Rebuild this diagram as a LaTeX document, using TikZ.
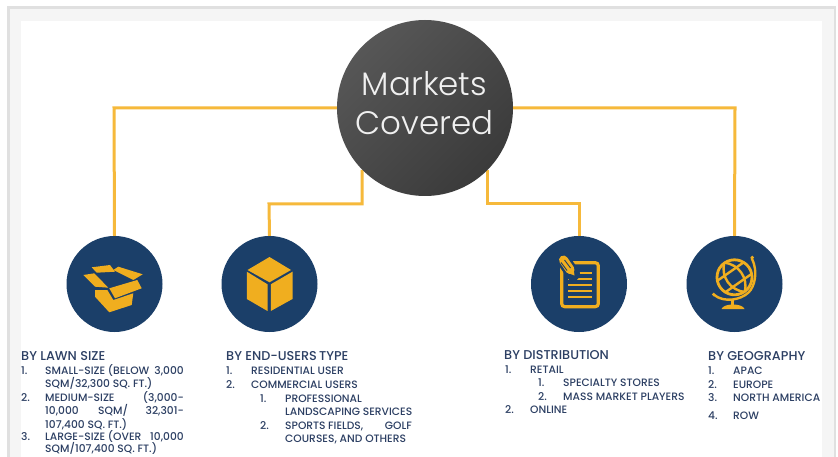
\documentclass[tikz,border=0pt]{standalone}
\usepackage{fontspec}
\setmainfont{Poppins Medium}
\newfontfamily\lightf{Poppins Light}
\definecolor{navy}{HTML}{1B3F69}
\definecolor{gold}{HTML}{F0AE1F}
\definecolor{conn}{HTML}{F6B93B}
\definecolor{txt}{HTML}{2C3F63}
\definecolor{frame}{HTML}{E0E0E0}
\definecolor{band}{HTML}{F5F5F5}
\tikzset{
 x=1pt,y=-1pt,
 wire/.style={draw=conn,line width=3pt,line join=miter},
 badge/.style={circle,fill=navy,minimum size=96pt,inner sep=0pt,draw=none},
 head/.style={anchor=base west,inner sep=0pt,font=\fontsize{12.8}{14}\selectfont,text=txt},
 item/.style={anchor=base west,inner sep=0pt,font=\fontsize{10.7}{12}\selectfont,text=txt},
 itemr/.style={item,anchor=base east},
 hubtext/.style={anchor=center,inner sep=0pt,text=black!6,font=\lightf\fontsize{32.5}{38}\selectfont},
}
\begin{document}
\begin{tikzpicture}
\useasboundingbox (0,0) rectangle (838,457);
\fill[white] (0,0) rectangle (838,457);
\fill[frame] (7,6) rectangle (836,457);
\fill[band] (10,9) rectangle (834,457);
\fill[white] (21,21) rectangle (822,457);
% connectors
\coordinate (hl) at (114,108);
\coordinate (hr) at (735,108);
\coordinate (ml) at (269,204);
\coordinate (mr) at (579,204);
\coordinate (dl) at (362,204);
\coordinate (dr) at (487,204);
\coordinate (sl) at (362,170);
\coordinate (sr) at (487,170);
\node[badge] (b1) at (114.5,284) {};
\node[badge] (b2) at (269.5,284) {};
\node[badge] (b3) at (579,284) {};
\node[badge] (b4) at (734.5,284) {};
\node[circle,minimum size=176pt,inner sep=0pt] (hub) at (425,108) {};
\draw[wire] (hub.west) -- (hl) -- (b1.north);
\draw[wire] (hub.east) -- (hr) -- (b4.north);
\draw[wire] (sl) -- (dl) -- (ml) -- (b2.north);
\draw[wire] (sr) -- (dr) -- (mr) -- (b3.north);
\node[circle,minimum size=176pt,inner sep=0pt,top color=black!66,bottom color=black!77,shading angle=45,draw=none] (disc) at (425,108) {};
\node[hubtext] (t1) at (424.5,84) {Markets};
\node[hubtext] (t2) at (424.5,123) {Covered};
% box icon
\begin{scope}[shift={(114.5,284)}]
\fill[gold] (-31.2,-9) -- (-20.2,-10.7) -- (-6.2,3.7) -- (-19.5,2.7) -- cycle;
\fill[gold] (-22.8,-16.7) -- (-4.5,-19) -- (.5,-12.3) -- (-17.8,-11.3) -- cycle;
\fill[gold] (3.8,-17.3) -- (28.2,-9.7) -- (18.8,-4) -- (-1.2,-14) -- cycle;
\fill[gold] (-5.2,4.3) -- (22.8,-4) -- (27.2,4.3) -- (.5,14.3) -- cycle;
\fill[gold] (-19.5,6) -- (-7.2,6) -- (-1.2,16) -- (18.8,9.3) -- (17.2,21) -- (-5.2,28.3) -- (-19.5,12.7) -- cycle;
\end{scope}
% cube icon
\begin{scope}[shift={(269.5,284)}]
\fill[gold] (0,-27) -- (21.5,-14) -- (0,-1.7) -- (-22,-14) -- cycle;
\fill[gold] (-22.7,-12.3) -- (-2,.3) -- (-2,27) -- (-22.7,15) -- cycle;
\fill[gold] (23,-12.3) -- (1.3,.3) -- (1.3,27) -- (23,15) -- cycle;
\end{scope}
% document icon
\begin{scope}[shift={(579,284)}]
\draw[gold,line width=3.2pt,rounded corners=3pt] (-17.3,-21.3) rectangle (19.3,22.7);
\foreach \yy/\xa in {-11.3/-4,-5/-10.7,1.3/-10.7,7.3/-10.7,13.3/-10.7}
 \draw[gold,line width=1.8pt] (\xa,\yy) -- (12.7,\yy);
\draw[navy,line width=14pt,line cap=round] (-15.5,-24) -- (-6,-10);
\draw[gold,line width=9pt,line cap=round] (-15.5,-24) -- (-9,-14.5);
\fill[gold] (-12.5,-11.5) -- (-5.5,-16) -- (-4.5,-8.5) -- cycle;
\draw[navy,line width=.9pt] (-18,-21.5) -- (-12,-13.5) (-14.5,-24) -- (-8.5,-16);
\end{scope}
% globe icon
\begin{scope}[shift={(734.5,284)}]
\begin{scope}[shift={(0,-6.7)},rotate=35]
\begin{scope}
\clip (0,0) circle (18);
\draw[gold,line width=2.4pt] (0,-18) .. controls (-11,-8) and (-11,8) .. (0,18);
\draw[gold,line width=2.4pt] (0,-18) .. controls (11,-8) and (11,8) .. (0,18);
\draw[gold,line width=2.4pt] (-18,-7) -- (18,-7) (-18,7) -- (18,7);
\end{scope}
\draw[gold,line width=2.8pt] (0,0) circle (17.5);
\end{scope}
\draw[gold,line width=2.4pt,line cap=round] (17.3,-25.7) .. controls (24,-12) and (20,3) .. (14,8.5) .. controls (6,16) and (-10,19) .. (-20.3,11);
\fill[gold] (-20.8,10.5) circle (1.9);
\fill[gold] (17.8,-26.5) circle (1.9);
\draw[gold,line width=3pt] (-2,15) -- (-2,22);
\fill[gold] (-13,25) .. controls (-11,19) and (8,19) .. (10,25) -- cycle;
\end{scope}
% texts
\node[head] (h1) at (21,360) {BY LAWN SIZE};
\node[item] (n1) at (21,374) {1.};
\node[item] (i1) at (45,374) {SMALL-SIZE (BELOW};
\node[itemr] (i1b) at (184,374) {3,000};
\node[item] (i2) at (45,387.5) {SQM/32,300 SQ. FT.)};
\node[item] (n2) at (21,401) {2.};
\node[item] (i3) at (45,401) {MEDIUM-SIZE};
\node[itemr] (i3b) at (184,401) {(3,000-};
\node[item] (i4) at (45,414.5) {10,000};
\node[item] (i4a) at (98,414.5) {SQM/};
\node[itemr] (i4b) at (184,414.5) {32,301-};
\node[item] (i5) at (45,428) {107,400 SQ. FT.)};
\node[item] (n3) at (21,440) {3.};
\node[item] (i6) at (45,440) {LARGE-SIZE (OVER};
\node[itemr] (i6b) at (184,440) {10,000};
\node[item] (i7) at (45,452.5) {SQM/107,400 SQ. FT.)};

\node[head] (h2) at (226,360) {BY END-USERS\,TYPE};
\node[item] (e1n) at (226,374) {1.};
\node[item] (e1) at (251,374) {RESIDENTIAL USER};
\node[item] (e2n) at (226,388) {2.};
\node[item] (e2) at (251,388) {COMMERCIAL USERS};
\node[item] (e3n) at (260,402) {1.};
\node[item] (e3) at (285,402) {PROFESSIONAL};
\node[item] (e4) at (285,415) {LANDSCAPING SERVICES};
\node[item] (e5n) at (260,429) {2.};
\node[item] (e5) at (285,429) {SPORTS};
\node[item] (e5a) at (328,429) {FIELDS,};
\node[itemr] (e5b) at (412,429) {GOLF};
\node[item] (e6) at (285,442) {COURSES, AND OTHERS};

\node[head] (h3) at (504,359.5) {BY DISTRIBUTION};
\node[item] (d1n) at (505,373) {1.};
\node[item] (d1) at (530,373) {RETAIL};
\node[item] (d2n) at (538,386.5) {1.};
\node[item] (d2) at (563,386.5) {SPECIALTY STORES};
\node[item] (d3n) at (538,400.5) {2.};
\node[item] (d3) at (563,400.5) {MASS MARKET PLAYERS};
\node[item] (d4n) at (505,413.5) {2.};
\node[item] (d4) at (530,413.5) {ONLINE};

\node[head] (h4) at (708,360.5) {BY GEOGRAPHY};
\node[item] (g1n) at (708,374.5) {1.};
\node[item] (g1) at (733,374.5) {APAC};
\node[item] (g2n) at (708,388) {2.};
\node[item] (g2) at (733,388) {EUROPE};
\node[item] (g3n) at (708,401) {3.};
\node[item] (g3) at (733,401) {NORTH AMERICA};
\node[item] (g4n) at (708,419) {4.};
\node[item] (g4) at (733,419) {ROW};
\end{tikzpicture}
\end{document}
